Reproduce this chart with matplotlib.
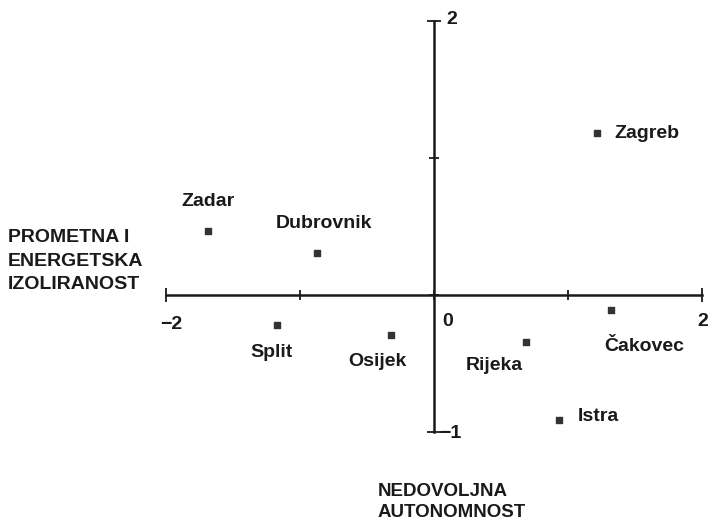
import matplotlib.pyplot as plt
import matplotlib as mpl

mpl.rcParams['font.family'] = ['Liberation Sans', 'DejaVu Sans']
mpl.rcParams['font.weight'] = 'bold'

# city positions
cities = ['Zagreb', 'Zadar', 'Dubrovnik', 'Split', 'Osijek', 'Rijeka', 'Čakovec', 'Istra']
x_vals = [1.22, -1.69, -0.87, -1.17, -0.32, 0.69, 1.32, 0.93]
y_vals = [1.18, 0.47, 0.31, -0.22, -0.29, -0.34, -0.11, -0.91]

x_ticks = [-2, -1, 0, 1, 2]
y_ticks = [-1, 0, 1, 2]
x_axis_title = 'PROMETNA I\nENERGETSKA\nIZOLIRANOST'
y_axis_title = 'NEDOVOLJNA\nAUTONOMNOST'

# label offsets in points (styling only)
offsets = [(12, 0, 'left'), (0, 21, 'center'), (5, 21, 'center'), (-4, -20, 'center'),
           (-10, -19, 'center'), (-23, -17, 'center'), (24, -26, 'center'), (14, 2, 'left')]

ink = '#1a1a1a'
fs = 14
fig = plt.figure(figsize=(7.09, 5.25), dpi=100)
ax = fig.add_axes([166 / 709, 93 / 525, 536 / 709, 411 / 525])
ax.set_xlim(-2, 2)
ax.set_ylim(-1, 2)

for side in ['top', 'right']:
    ax.spines[side].set_visible(False)
ax.spines['left'].set_position(('data', 0))
ax.spines['bottom'].set_position(('data', 0))
for side in ['left', 'bottom']:
    ax.spines[side].set_linewidth(1.8)
    ax.spines[side].set_color(ink)
    ax.spines[side].set_clip_on(False)

ax.set_xticks(x_ticks)
ax.set_yticks(y_ticks)
ax.tick_params(direction='inout', length=7, width=1.3, color=ink,
               labelbottom=False, labelleft=False)
# end caps are a bit longer than the inner ticks
ax.xaxis.get_major_ticks()[0].tick1line.set_markersize(10)
ax.xaxis.get_major_ticks()[-1].tick1line.set_markersize(10)
ax.yaxis.get_major_ticks()[0].tick1line.set_markersize(10)
ax.yaxis.get_major_ticks()[-1].tick1line.set_markersize(10)

ax.scatter(x_vals, y_vals, marker='s', s=16, color='#333333', zorder=3, clip_on=False)
for name, x, y, (dx, dy, ha) in zip(cities, x_vals, y_vals, offsets):
    ax.annotate(name, (x, y), xytext=(dx, dy), textcoords='offset points',
                ha=ha, va='center', fontsize=fs, color=ink)

# tick labels placed like the original
ax.annotate('−2', (-2, 0), xytext=(4, -21), textcoords='offset points',
            ha='center', va='center', fontsize=fs, color=ink)
ax.annotate('0', (0, 0), xytext=(10, -19), textcoords='offset points',
            ha='center', va='center', fontsize=fs, color=ink)
ax.annotate('2', (2, 0), xytext=(4.5, -19), textcoords='offset points',
            ha='right', va='center', fontsize=fs, color=ink, annotation_clip=False)
ax.annotate('2', (0, 2), xytext=(9, 1), textcoords='offset points',
            ha='left', va='center', fontsize=fs, color=ink, annotation_clip=False)
ax.annotate('−1', (0, -1), xytext=(4, -1), textcoords='offset points',
            ha='left', va='center', fontsize=fs, color=ink, annotation_clip=False)

fig.text(8 / 709, 1 - 261 / 525, x_axis_title, ha='left', va='center',
         fontsize=14, color=ink, linespacing=1.5)
fig.text(378 / 709, 1 - 502 / 525, y_axis_title, ha='left', va='center',
         fontsize=13.5, color=ink, linespacing=1.35)

fig.savefig('out.png', dpi=100, facecolor='white')
